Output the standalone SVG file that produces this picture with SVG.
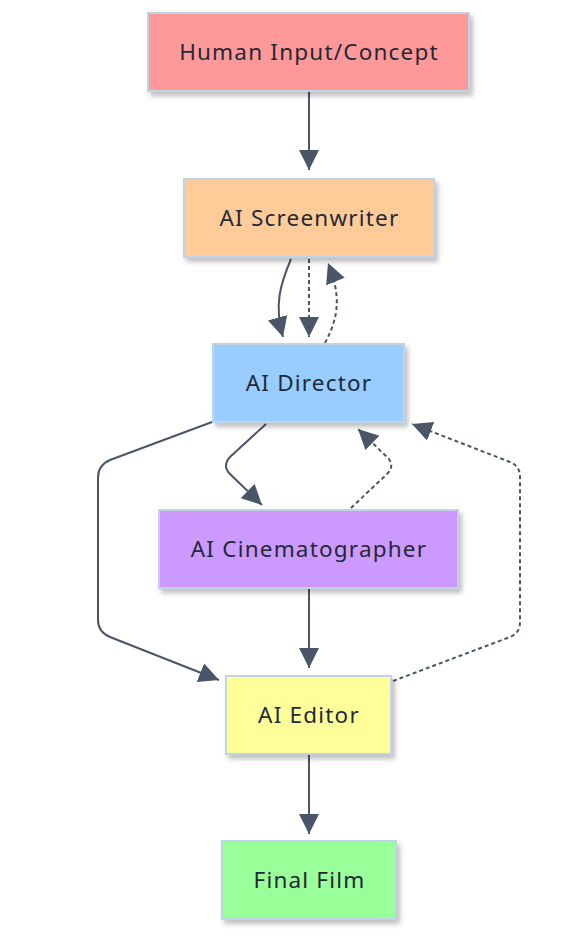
<svg xmlns="http://www.w3.org/2000/svg" width="582" height="939" viewBox="0 0 582 939">
<defs>
<filter id="sh" x="-10%" y="-10%" width="130%" height="140%">
<feDropShadow dx="3" dy="4" stdDeviation="2.5" flood-color="#000" flood-opacity="0.25"/>
</filter>
<marker id="ah" markerWidth="22" markerHeight="22" refX="20" refY="10" orient="auto" markerUnits="userSpaceOnUse">
<path d="M0,0 L20,10 L0,20 Z" fill="#4a5568"/>
</marker>
</defs>
<style>
.n rect{stroke:#c3d3e6;stroke-width:2;filter:url(#sh)}
.n text{font-family:"Noto Sans","DejaVu Sans",sans-serif;font-size:22.5px;letter-spacing:1.2px;fill:#1f2937;text-anchor:middle;dominant-baseline:central}
.e path{fill:none;stroke:#4a5568;stroke-width:2}
.e .d{stroke-dasharray:4 3}
</style>
<g class="e" id="connectors">
<path d="M309,91 L309,170" marker-end="url(#ah)"/>
<path d="M291,259 C280,285 274,305 283,337" marker-end="url(#ah)"/>
<path class="d" d="M309,259 L309,337" marker-end="url(#ah)"/>
<path class="d" d="M325,343 C338,318 342,298 328,263" marker-end="url(#ah)"/>
<path d="M266,424 L230,457 Q222,466 230,474 L262,505" marker-end="url(#ah)"/>
<path class="d" d="M351,508 L387,474 Q395,466 388,458 L358,429" marker-end="url(#ah)"/>
<path d="M212,422 L110,460 Q98,465 98,478 L98,620 Q98,632 110,637 L219,680" marker-end="url(#ah)"/>
<path class="d" d="M393,681 L510,637 Q520,633 520,622 L520,477 Q520,466 510,462 L412,424" marker-end="url(#ah)"/>
<path d="M309,589 L309,668" marker-end="url(#ah)"/>
<path d="M309,755 L309,834" marker-end="url(#ah)"/>
</g>
<g class="n" id="human"><rect x="148" y="13" width="321" height="78" fill="#ff9999"/><text x="309" y="51">Human Input/Concept</text></g>
<g class="n" id="screenwriter"><rect x="184" y="179" width="250" height="78" fill="#ffcc99"/><text x="309.5" y="217">AI Screenwriter</text></g>
<g class="n" id="director"><rect x="213" y="344" width="191" height="78" fill="#99ccff"/><text x="309" y="382">AI Director</text></g>
<g class="n" id="cinematographer"><rect x="159" y="510" width="299" height="78" fill="#cc99ff"/><text x="309" y="548">AI Cinematographer</text></g>
<g class="n" id="editor"><rect x="226" y="676" width="165" height="78" fill="#ffff99"/><text x="309" y="714">AI Editor</text></g>
<g class="n" id="final"><rect x="222" y="841" width="174" height="78" fill="#99ff99"/><text x="309.5" y="879">Final Film</text></g>
</svg>
